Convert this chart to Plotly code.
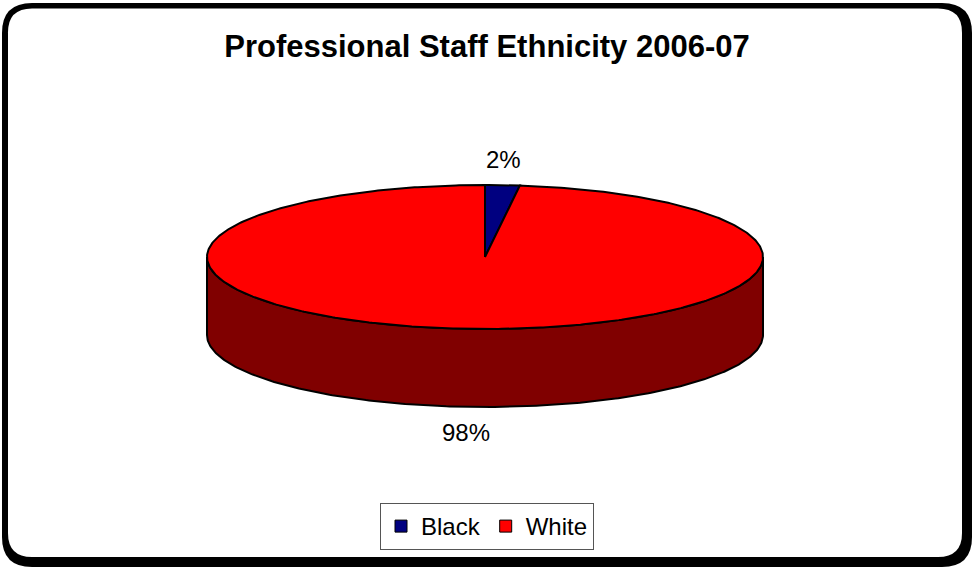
import numpy as np
import plotly.graph_objects as go

# ---- data ----
categories = ["Black", "White"]
values = [2, 98]
top_colors = ["#000080", "#FF0000"]
side_colors = ["#000040", "#800000"]
title_text = "Professional Staff Ethnicity 2006-07"

# ---- geometry (pixels) ----
W, H = 974, 568
CX, CY = 485, 257
RX, RY = 278, 72
DEPTH = 78
FONT = "Liberation Sans, Arial, sans-serif"

total = float(sum(values))


def pt(theta, dy=0.0):
    t = np.radians(theta)
    return CX + RX * np.sin(t), CY - RY * np.cos(t) + dy


def arc(a, b, dy=0.0):
    n = max(2, int(abs(b - a) * 1.5) + 1)
    th = np.linspace(a, b, n)
    xs, ys = pt(th, dy)
    return list(xs), list(ys)


fig = go.Figure()

starts = []
acc = 0.0
for v in values:
    starts.append(acc)
    acc += 360.0 * v / total

# side walls (front half visible: 90..270 deg)
for cat, v, s, col in zip(categories, values, starts, side_colors):
    e = s + 360.0 * v / total
    a, b = max(s, 90.0), min(e, 270.0)
    if a < b:
        x1, y1 = arc(a, b)
        x2, y2 = arc(b, a, DEPTH)
        fig.add_trace(go.Scatter(x=x1 + x2 + [x1[0]], y=y1 + y2 + [y1[0]],
                                 mode="lines", fill="toself", fillcolor=col,
                                 line=dict(color="black", width=2),
                                 hoverinfo="skip", showlegend=False))

# top faces
for cat, v, s, col in zip(categories, values, starts, top_colors):
    e = s + 360.0 * v / total
    xa, ya = arc(s, e)
    fig.add_trace(go.Scatter(x=[CX] + xa + [CX], y=[CY] + ya + [CY],
                             mode="lines", fill="toself", fillcolor=col,
                             line=dict(color="black", width=2),
                             hoverinfo="skip", showlegend=False))

# percentage labels
for cat, v, s in zip(categories, values, starts):
    m = s + 180.0 * v / total
    t = np.radians(m)
    lx = CX + (RX + 20) * np.sin(t)
    ly = CY - (RY + 26) * np.cos(t) + (DEPTH if np.cos(t) < 0 else 0)
    fig.add_annotation(x=lx, y=ly, text=f"{round(100 * v / total)}%",
                       showarrow=False, xref="x", yref="y",
                       font=dict(family=FONT, size=24, color="black"))

# legend entries
for cat, col in zip(categories, top_colors):
    fig.add_trace(go.Scatter(x=[None], y=[None], mode="markers", name=cat,
                             marker=dict(symbol="square", size=12, color=col,
                                         line=dict(color="black", width=1))))

# rounded border (outer black, inner white)
def rrect(x0, y0, x1, y1, r):
    return (f"M {x0+r},{y0} L {x1-r},{y0} Q {x1},{y0} {x1},{y0+r} "
            f"L {x1},{y1-r} Q {x1},{y1} {x1-r},{y1} L {x0+r},{y1} "
            f"Q {x0},{y1} {x0},{y1-r} L {x0},{y0+r} Q {x0},{y0} {x0+r},{y0} Z")

fig.add_shape(type="path", path=rrect(2, 3, 972, 567, 30), xref="x", yref="y",
              fillcolor="black", line=dict(width=0), layer="below")
fig.add_shape(type="path", path=rrect(8, 8.5, 962, 557, 24), xref="x", yref="y",
              fillcolor="white", line=dict(width=0), layer="below")

fig.update_layout(
    width=W, height=H,
    margin=dict(l=0, r=0, t=0, b=0),
    paper_bgcolor="white", plot_bgcolor="rgba(0,0,0,0)",
    xaxis=dict(range=[0, W], visible=False, fixedrange=True),
    yaxis=dict(range=[H, 0], visible=False, fixedrange=True),
    title=dict(text=f"<b>{title_text}</b>", x=0.5, xanchor="center",
               y=1 - 46 / H, yanchor="middle",
               font=dict(family=FONT, size=31, color="black")),
    legend=dict(orientation="h", x=0.5, xanchor="center",
                y=1 - 503 / H, yanchor="top",
                font=dict(family=FONT, size=24, color="black"),
                bordercolor="#555555", borderwidth=1, bgcolor="white",
                itemwidth=30, tracegroupgap=0),
    showlegend=True,
)

fig.write_html("out.html")
